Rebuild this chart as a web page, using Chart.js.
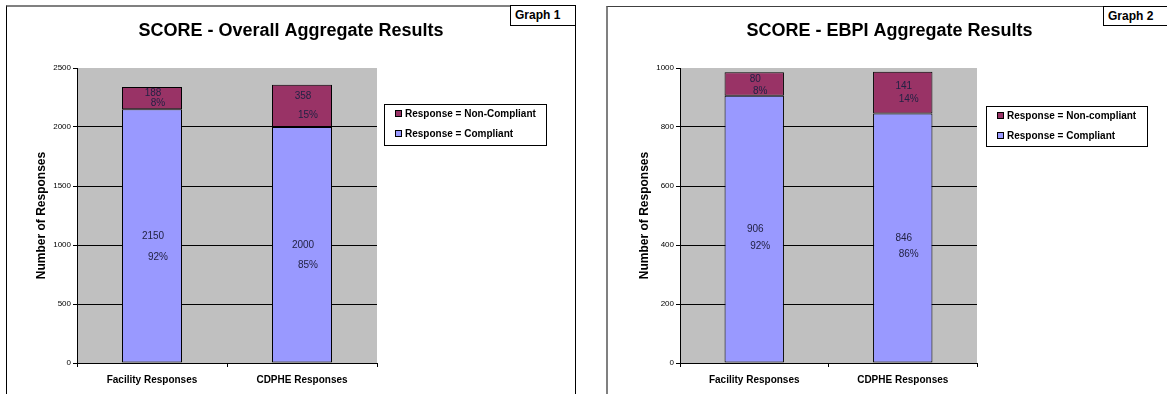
<!DOCTYPE html>
<html>
<head>
<meta charset="utf-8">
<script src="https://cdn.jsdelivr.net/npm/chart.js@4.4.1/dist/chart.umd.min.js"></script>
<style>
  html, body { margin: 0; padding: 0; background: #fff; width: 1167px; height: 394px; overflow: hidden; position: relative; }
  canvas { position: absolute; }
  .frame { position: absolute; box-sizing: border-box; }
  .tag { position: absolute; box-sizing: border-box; background: #fff; border: 1px solid #000;
         font: bold 12px "Liberation Sans", Arial, sans-serif; color: #000; padding: 2px 0 0 4px; }
</style>
</head>
<body>
<canvas id="overall" width="570" height="389" style="left:6px;top:5px"></canvas>
<canvas id="ebpi" width="565" height="388" style="left:607px;top:6px"></canvas>
<div class="frame" style="left:6px;top:5px;width:570px;height:400px;border-left:1px solid #000;border-top:2px solid #808080;border-right:1px solid #000"></div>
<div class="frame" style="left:606px;top:6px;width:600px;height:400px;border-left:2px solid #808080;border-top:1px solid #404040"></div>
<div class="tag" style="left:510px;top:5px;width:66px;height:21px">Graph 1</div>
<div class="tag" style="left:1103px;top:6px;width:80px;height:20px">Graph 2</div>

<script>
// ---- data ----
const categories = ['Facility Responses', 'CDPHE Responses'];

const overallCompliant = [2150, 2000];
const overallNonCompliant = [188, 358];
const overallAxisMax = 2500;
const overallAxisStep = 500;

const ebpiCompliant = [906, 846];
const ebpiNonCompliant = [80, 141];
const ebpiAxisMax = 1000;
const ebpiAxisStep = 200;

// ---- styling ----
const FONT = '"Liberation Sans", Arial, Helvetica, sans-serif';
const COMPLIANT_COLOR = '#9999FF';
const NONCOMPLIANT_COLOR = '#993366';
const PLOT_BG = '#C0C0C0';
const LABEL_COLOR = '#222244';

// grey plot area behind grid and bars
const plotBackground = {
  id: 'plotBackground',
  beforeDraw(chart) {
    const { ctx, chartArea: a } = chart;
    ctx.save();
    ctx.fillStyle = PLOT_BG;
    ctx.fillRect(a.left, a.top, a.right - a.left, a.bottom - a.top);
    ctx.restore();
  }
};

// count and share of the column written inside every stacked segment
const segmentLabels = {
  id: 'segmentLabels',
  afterDatasetsDraw(chart, args, opts) {
    const { ctx } = chart;
    const sets = chart.data.datasets;
    ctx.save();
    ctx.font = '10px ' + FONT;
    ctx.fillStyle = LABEL_COLOR;
    ctx.textAlign = 'center';
    ctx.textBaseline = 'middle';
    sets.forEach((ds, di) => {
      chart.getDatasetMeta(di).data.forEach((bar, i) => {
        const total = sets.reduce((s, d) => s + d.data[i], 0);
        const value = ds.data[i];
        const share = Math.round(value / total * 100) + '%';
        const cy = (bar.y + bar.base) / 2;
        const [dv, dp] = opts.offsets[di][i];
        ctx.fillText(String(value), bar.x + 1, cy + dv);
        ctx.fillText(share, bar.x + 6, cy + dp);
      });
    });
    ctx.restore();
  }
};

// framed legend to the right of the plot, top series first
const boxedLegend = {
  id: 'boxedLegend',
  afterDraw(chart, args, o) {
    const { ctx, chartArea: a } = chart;
    const x = Math.round(a.right + o.gap), y = o.top;
    ctx.save();
    ctx.fillStyle = '#fff';
    ctx.fillRect(x, y, o.width, o.height);
    ctx.strokeStyle = '#000';
    ctx.lineWidth = 1;
    ctx.strokeRect(x + 0.5, y + 0.5, o.width - 1, o.height - 1);
    ctx.font = 'bold 10px ' + FONT;
    ctx.textAlign = 'left';
    ctx.textBaseline = 'middle';
    chart.data.datasets.slice().reverse().forEach((ds, k) => {
      const cy = Math.round(y + o.firstRow + k * o.rowGap);
      ctx.fillStyle = ds.backgroundColor;
      ctx.fillRect(x + 11, cy - 4, 7, 7);
      ctx.strokeRect(x + 11.5, cy - 3.5, 6, 6);
      ctx.fillStyle = '#000';
      ctx.fillText(ds.label, x + 21, cy);
    });
    ctx.restore();
  }
};

function buildChart(id, c) {
  const dsBase = { borderColor: '#000', borderWidth: 1, borderSkipped: false,
                   barPercentage: 0.4, categoryPercentage: 1 };
  return new Chart(document.getElementById(id), {
    type: 'bar',
    data: {
      labels: categories,
      datasets: [
        Object.assign({ label: c.compliantLabel, data: c.compliant, backgroundColor: COMPLIANT_COLOR }, dsBase),
        Object.assign({ label: c.nonCompliantLabel, data: c.nonCompliant, backgroundColor: NONCOMPLIANT_COLOR }, dsBase)
      ]
    },
    options: {
      responsive: false,
      animation: false,
      devicePixelRatio: 1,
      layout: { padding: 0 },
      plugins: {
        legend: { display: false },
        tooltip: { enabled: false },
        title: {
          display: true, text: c.title, color: '#000',
          font: { family: FONT, size: 18, weight: 'bold' },
          padding: { top: c.titleTop, bottom: c.titleBottom }
        },
        segmentLabels: { offsets: c.offsets },
        boxedLegend: c.legend
      },
      scales: {
        x: {
          stacked: true,
          offset: true,
          grid: { display: true, drawOnChartArea: false, drawTicks: true, tickLength: 4, offset: true, color: '#000' },
          border: { display: true, color: '#000' },
          ticks: { color: '#000', padding: 7, maxRotation: 0, font: { family: FONT, size: 10, weight: 'bold' } },
          afterFit: s => { s.height = c.xHeight; }
        },
        y: {
          stacked: true,
          min: 0,
          max: c.max,
          ticks: { stepSize: c.step, color: '#000', padding: 2, font: { family: FONT, size: 8 },
                   callback: v => String(v) },
          grid: {
            color: ctx => (ctx.tick && ctx.tick.value === c.max) ? 'rgba(0,0,0,0)' : '#000',
            tickColor: '#000', tickLength: 4, drawTicks: true
          },
          border: { display: true, color: '#000' },
          title: {
            display: true, text: 'Number of Responses', color: '#000',
            font: { family: FONT, size: 12, weight: 'bold' },
            padding: { top: c.yTitlePad, bottom: 0 }
          },
          afterFit: s => { s.width = c.yWidth; }
        },
        // empty right-hand column that holds the legend
        side: {
          position: 'right', display: true, min: 0, max: 1,
          grid: { display: false, drawTicks: false },
          ticks: { display: false },
          border: { display: false },
          afterFit: s => { s.width = c.sideWidth; }
        }
      }
    },
    plugins: [plotBackground, segmentLabels, boxedLegend]
  });
}

buildChart('overall', {
  title: 'SCORE - Overall Aggregate Results',
  compliantLabel: 'Response = Compliant',
  nonCompliantLabel: 'Response = Non-Compliant',
  compliant: overallCompliant,
  nonCompliant: overallNonCompliant,
  max: overallAxisMax,
  step: overallAxisStep,
  titleTop: 15, titleBottom: 26.4,
  yWidth: 71, xHeight: 31, sideWidth: 199, yTitlePad: 28,
  offsets: [[[0, 21], [0, 20]], [[-5, 5], [-10, 9]]],
  legend: { gap: 7, top: 99, width: 163, height: 42, firstRow: 10, rowGap: 19.5 }
});

buildChart('ebpi', {
  title: 'SCORE - EBPI Aggregate Results',
  compliantLabel: 'Response = Compliant',
  nonCompliantLabel: 'Response = Non-compliant',
  compliant: ebpiCompliant,
  nonCompliant: ebpiNonCompliant,
  max: ebpiAxisMax,
  step: ebpiAxisStep,
  titleTop: 14.2, titleBottom: 26.2,
  yWidth: 73, xHeight: 31, sideWidth: 195, yTitlePad: 30,
  offsets: [[[0, 17], [0, 16]], [[-5, 7], [-6, 7]]],
  legend: { gap: 9, top: 100, width: 162, height: 41, firstRow: 10, rowGap: 19.7 }
});
</script>
</body>
</html>
